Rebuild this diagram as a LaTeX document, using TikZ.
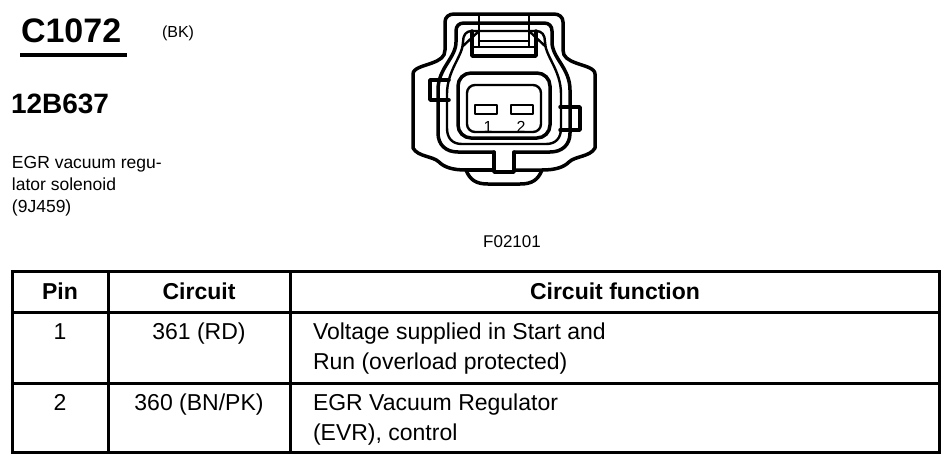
\documentclass[tikz,border=0pt]{standalone}
\usepackage{fontspec}
\setmainfont{Liberation Sans}
\usepackage{tikz}

\begin{document}
\begin{tikzpicture}[x=1pt,y=-1pt]

\tikzstyle{heavy}=[line width=3.5pt,line join=round,line cap=round]
\tikzstyle{light}=[line width=2.4pt,line join=round,line cap=round]
\tikzstyle{rule}=[line width=3pt]
\tikzstyle{txt}=[inner sep=0pt,outer sep=0pt]
\tikzstyle{head}=[txt,anchor=base,font=\bfseries\fontsize{23}{28}\selectfont]
\tikzstyle{cell}=[txt,anchor=base,font=\fontsize{23}{28}\selectfont]
\tikzstyle{func}=[cell,anchor=base west]
\tikzstyle{desc}=[txt,anchor=base west,font=\fontsize{17.5}{21}\selectfont]
\tikzstyle{pinno}=[txt,font=\fontsize{16}{19}\selectfont]

\useasboundingbox (0,0) rectangle (950,463);

  \node[txt,anchor=base west,font=\bfseries\fontsize{34}{40}\selectfont] (conn) at (21,42) {C1072};
  \node[txt,anchor=base west,font=\fontsize{16}{19}\selectfont] (colour) at (162,37) {(BK)};
  \node[txt,anchor=base west,font=\bfseries\fontsize{28}{33}\selectfont] (part) at (11,113) {12B637};
  \node[desc] (desc1) at (12,168) {EGR vacuum regu-};
  \node[desc] (desc2) at (12,190) {lator solenoid};
  \node[desc] (desc3) at (12,212) {(9J459)};
  \node[txt,anchor=base,font=\fontsize{17}{20}\selectfont] (fig) at (512,247) {F02101};
\draw[line width=3.5pt] (20,55) -- (127,55);

% housing
\draw[heavy] (466,170) .. controls (452,170) and (444,167) .. (439,162)
  .. controls (433,156) and (418,157) .. (413,148) -- (413,74)
  .. controls (413,68) and (424,66) .. (432,63) .. controls (440,60) and (445,57) .. (445,50)
  -- (445,22) .. controls (445,17) and (449,14) .. (454,14) -- (554,14)
  .. controls (559,14) and (563,17) .. (563,22) -- (563,50)
  .. controls (563,57) and (568,60) .. (576,63) .. controls (584,66) and (595,68) .. (595,74)
  -- (595,148) .. controls (590,157) and (575,156) .. (569,162)
  .. controls (564,167) and (556,170) .. (542,170) -- (514,170);
\draw[heavy] (466,170) -- (494,170);
\draw[heavy] (466,170) .. controls (470,180) and (476,184) .. (488,184) -- (520,184)
  .. controls (532,184) and (538,180) .. (542,170);
\draw[heavy] (494,152) -- (494,172) -- (514,172) -- (514,152);
\draw[heavy] (494,152) -- (458,152) .. controls (446,152) and (438,145) .. (438,133)
  -- (438,90) .. controls (438,68) and (456,58) .. (456,42) -- (456,31)
  .. controls (456,26) and (459,23) .. (464,23) -- (544,23)
  .. controls (549,23) and (552,26) .. (552,31) -- (552,42)
  .. controls (552,58) and (570,68) .. (570,90) -- (570,133)
  .. controls (570,145) and (562,152) .. (550,152) -- (514,152);
\draw[light] (462,144) .. controls (452,144) and (447,138) .. (447,128) -- (447,94)
  .. controls (447,70) and (463,56) .. (463,42) .. controls (463,35) and (466,31) .. (472,31)
  -- (536,31) .. controls (542,31) and (545,35) .. (545,42)
  .. controls (545,56) and (561,70) .. (561,94) -- (561,128)
  .. controls (561,138) and (556,144) .. (546,144) -- cycle;
\draw[heavy] (449,80) -- (430,80) -- (430,100) -- (449,100);
\draw[heavy] (560,107) -- (580,107) -- (580,130) -- (560,130);

% latch
\draw[light] (479,14) -- (479,47) (529,14) -- (529,47);
\draw[light] (479,41) -- (529,41) (472,47) -- (536,47);
\draw[heavy] (472,31) -- (472,56) -- (536,56) -- (536,31);
\draw[light] (463,46) -- (479,31) (545,46) -- (529,31);

% cavity
\draw[heavy,rounded corners=13pt] (458,73) rectangle (550,138);
\draw[light,rounded corners=8pt] (467,85) rectangle (541,132);
\draw[light] (475,105) rectangle (497,114) (511,105) rectangle (533,114);
  \node[pinno] (p1) at (488,127) {1};
  \node[pinno] (p2) at (521,127) {2};

% table
\draw[rule] (12,271) rectangle (939,452);
\draw[rule] (12,312) -- (939,312);
\draw[rule] (12,383) -- (939,383);
\draw[rule] (108,271) -- (108,452);
\draw[rule] (290,271) -- (290,452);

  \node[head] (hpin) at (60,299) {Pin};
  \node[head] (hcirc) at (199,299) {Circuit};
  \node[head] (hfunc) at (615,299) {Circuit function};

  \node[cell] (pin1) at (60,339) {1};
  \node[cell] (circ1) at (199,339) {361 (RD)};
  \node[func] (func1a) at (313,339) {Voltage supplied in Start and};
  \node[func] (func1b) at (313,369) {Run (overload protected)};

  \node[cell] (pin2) at (60,410) {2};
  \node[cell] (circ2) at (199,410) {360 (BN/PK)};
  \node[func] (func2a) at (313,410) {EGR Vacuum Regulator};
  \node[func] (func2b) at (313,440) {(EVR), control};

\end{tikzpicture}
\end{document}
